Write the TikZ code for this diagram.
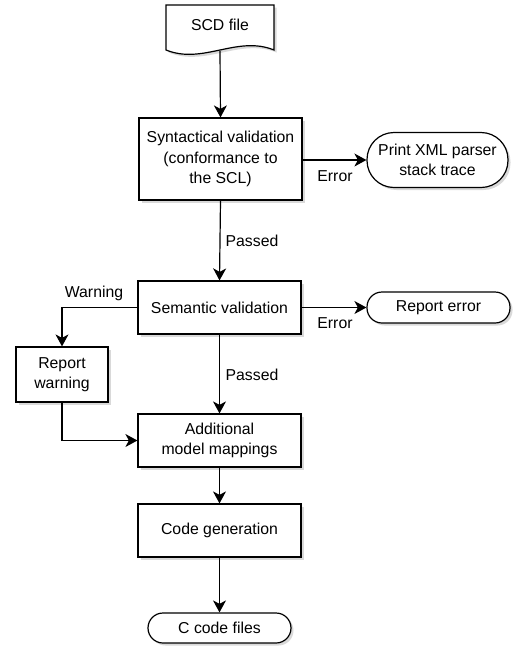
\documentclass[tikz,border=0pt]{standalone}
\usepackage{fontspec}
\setmainfont{Liberation Sans}
\usetikzlibrary{arrows.meta,shadows,positioning}
\begin{document}
\begin{tikzpicture}[x=1pt,y=-1pt,
  every node/.style={font=\fontsize{15.8}{20.5}\selectfont},
  shd/.style={drop shadow={shadow xshift=2.5pt,shadow yshift=-2.5pt,opacity=0.25,fill=black!60}},
  proc/.style={draw,fill=white,line width=1.2pt,align=center,inner sep=0pt,shd},
  term/.style={proc,rounded corners=#1},
  lbl/.style={inner sep=0pt,align=center},
  conn/.style={line width=1.2pt,-{Stealth[length=12pt,width=13pt,inset=3.5pt]}},
  plain/.style={line width=1.2pt}
]
\useasboundingbox (0,0) rectangle (514,649);
% document shape
\path[draw,fill=white,line width=1.2pt,shd]
  (166,5) -- (274,5) -- (274,50)
  .. controls (237,35) and (203,65) .. (166,50) -- cycle;
\node[lbl] (scd) at (220,25) {SCD file};
\coordinate (scdb) at (220,51);

\node[proc,minimum width=163pt,minimum height=82pt] (syn) at (220.5,159)
  {Syntactical validation\\(conformance to\\the SCL)};
\node[term=27pt,minimum width=141pt,minimum height=55pt] (prt) at (437.5,160)
  {Print XML parser\\stack trace};
\node[proc,minimum width=163pt,minimum height=53pt] (sem) at (219.5,307.5)
  {Semantic validation};
\node[term=15pt,minimum width=143pt,minimum height=31pt] (rerr) at (438.5,307.5)
  {Report error};
\node[proc,minimum width=92pt,minimum height=55pt] (rwarn) at (62,374.5)
  {Report\\warning};
\node[proc,minimum width=163pt,minimum height=53pt] (add) at (219.5,440.5)
  {Additional\\model mappings};
\node[proc,minimum width=163pt,minimum height=53pt] (cg) at (219.5,530.5)
  {Code generation};
\node[term=15pt,minimum width=143pt,minimum height=30pt] (ccf) at (219.5,628)
  {C code files};

\draw[conn] (scdb) -- (syn.north);
\draw[conn] (syn.east |- prt.west) -- (prt.west);
\draw[conn] (syn.south) -- (sem.north);
\draw[conn] (sem.east) -- (rerr.west);
\draw[conn] (sem.west) -| (rwarn.north);
\draw[conn] (sem.south) -- (add.north);
\draw[conn] (rwarn.south) |- (add.west);
\draw[conn] (add.south) -- (cg.north);
\draw[conn] (cg.south) -- (ccf.north);

\node[lbl] (l1) at (335,176) {Error};
\node[lbl] (l2) at (252,241) {Passed};
\node[lbl] (l3) at (94,293) {Warning};
\node[lbl] (l4) at (335,323) {Error};
\node[lbl] (l5) at (252,375) {Passed};
\end{tikzpicture}
\end{document}
